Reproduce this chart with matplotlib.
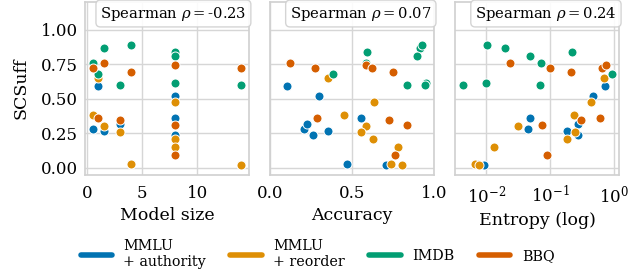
import matplotlib.pyplot as plt
from matplotlib.lines import Line2D

# model sizes (same 9 models for every dataset)
model_size = [0.5, 1, 1.5, 3, 4, 8, 8, 8, 14]

datasets = ["MMLU\n+ authority", "MMLU\n+ reorder", "IMDB", "BBQ"]
colors = ["#0173b2", "#de8f05", "#029e73", "#d55e00"]

# SCSuff per dataset
scsuff_auth = [0.28, 0.59, 0.27, 0.32, 0.029, 0.52, 0.36, 0.24, 0.022]
scsuff_reorder = [0.38, 0.65, 0.30, 0.26, 0.03, 0.48, 0.21, 0.15, 0.02]
scsuff_imdb = [0.76, 0.68, 0.87, 0.60, 0.89, 0.84, 0.81, 0.615, 0.60]
scsuff_bbq = [0.725, 0.36, 0.76, 0.35, 0.69, 0.745, 0.31, 0.095, 0.72]

# accuracy per dataset
acc_auth = [0.209, 0.104, 0.353, 0.223, 0.47, 0.30, 0.552, 0.259, 0.707]
acc_reorder = [0.452, 0.351, 0.586, 0.556, 0.737, 0.633, 0.628, 0.779, 0.803]
acc_imdb = [0.584, 0.383, 0.916, 0.833, 0.928, 0.592, 0.898, 0.954, 0.946]
acc_bbq = [0.273, 0.285, 0.119, 0.723, 0.749, 0.582, 0.833, 0.763, 0.622]

# entropy per dataset
ent_auth = [0.045, 0.74, 0.185, 0.277, 0.0072, 0.48, 0.049, 0.28, 0.0094]
ent_reorder = [0.24, 0.71, 0.032, 0.245, 0.0066, 0.44, 0.185, 0.0135, 0.0077]
ent_imdb = [0.072, 0.93, 0.0198, 0.071, 0.0102, 0.219, 0.049, 0.0098, 0.0043]
ent_bbq = [0.65, 0.60, 0.024, 0.31, 0.218, 0.75, 0.075, 0.091, 0.10]

spearman = ["-0.23", "0.07", "0.24"]
xlabels = ["Model size", "Accuracy", "Entropy (log)"]

scsuff = [scsuff_auth, scsuff_reorder, scsuff_imdb, scsuff_bbq]
acc = [acc_auth, acc_reorder, acc_imdb, acc_bbq]
ent = [ent_auth, ent_reorder, ent_imdb, ent_bbq]

plt.rcParams["font.family"] = "DejaVu Serif"
plt.rcParams["mathtext.fontset"] = "dejavuserif"

fig, axes = plt.subplots(1, 3, figsize=(6.35, 2.75), dpi=100, sharey=True)
fig.subplots_adjust(left=0.134, right=0.975, top=0.993, bottom=0.364, wspace=0.13)

xdata = [[model_size] * 4, acc, ent]
for i, ax in enumerate(axes):
    ax.set_axisbelow(True)
    ax.grid(True, color="#d6d6d6", linewidth=1)
    for s in ax.spines.values():
        s.set_color("#d0d0d0")
        s.set_linewidth(1.2)
    for d in range(4):
        ax.scatter(xdata[i][d], scsuff[d], s=42, color=colors[d],
                   edgecolor="white", linewidth=0.7, zorder=3)
    ax.set_xlabel(xlabels[i], fontsize=12.5, labelpad=4)
    ax.tick_params(axis="x", labelsize=12, length=0, pad=7)
    ax.tick_params(axis="y", labelsize=12, length=0, pad=5)
    ax.text(0.985, 0.985, r"Spearman $\rho=$" + spearman[i], transform=ax.transAxes,
            ha="right", va="top", fontsize=10.6,
            bbox=dict(boxstyle="round,pad=0.3", fc="white", ec="#d0d0d0", alpha=0.9))

axes[0].set_xticks([0, 5, 10])
axes[1].set_xlim(0, 1)
axes[1].set_xticks([0.0, 0.5, 1.0])
axes[2].set_xscale("log")
axes[2].set_xticks([0.01, 0.1, 1])
axes[2].minorticks_off()
axes[0].set_ylim(-0.05, 1.2)
axes[0].set_yticks([0, 0.25, 0.5, 0.75, 1.0])
axes[0].set_ylabel("SCSuff", fontsize=12.5, labelpad=8)

handles = [Line2D([0], [0], color=c, lw=4, solid_capstyle="round") for c in colors]
fig.legend(handles, datasets, loc="center", bbox_to_anchor=(0.5, 0.075), ncol=4,
           frameon=False, fontsize=10.3, handlelength=2.2, columnspacing=1.7,
           handletextpad=0.8)

plt.savefig("out.png")
